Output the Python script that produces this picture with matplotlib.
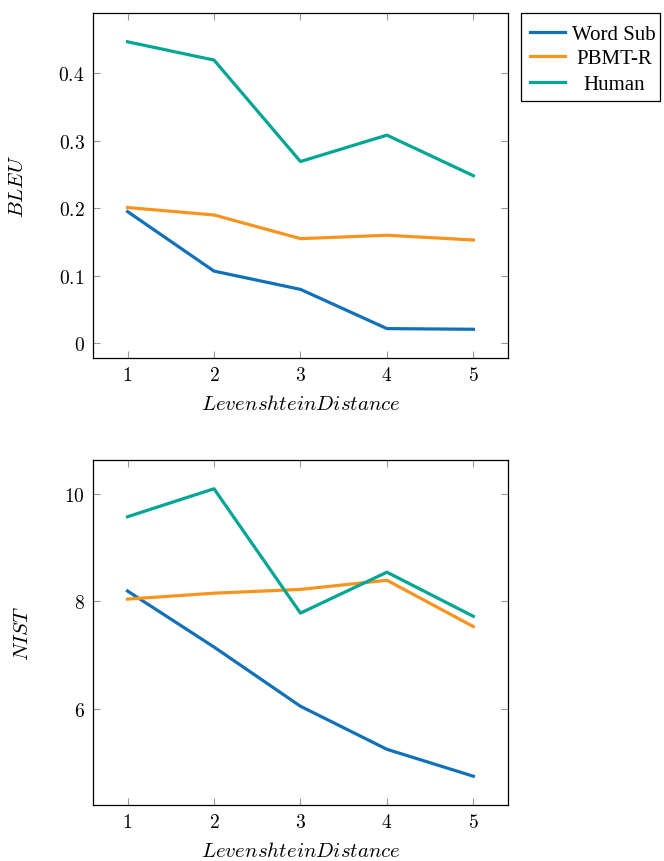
import matplotlib
matplotlib.use("Agg")
import matplotlib.pyplot as plt
from matplotlib.lines import Line2D
from matplotlib.patches import Rectangle

plt.rcParams['mathtext.fontset'] = 'cm'
plt.rcParams['font.family'] = ['Liberation Serif', 'DejaVu Serif']

distance = [1, 2, 3, 4, 5]
series_names = ["Word Sub", "PBMT-R", "Human"]
bleu_word_sub = [0.195, 0.107, 0.080, 0.022, 0.021]
bleu_pbmt_r = [0.201, 0.190, 0.155, 0.160, 0.153]
bleu_human = [0.446, 0.419, 0.269, 0.308, 0.248]
nist_word_sub = [8.19, 7.15, 6.05, 5.25, 4.75]
nist_pbmt_r = [8.04, 8.15, 8.22, 8.39, 7.53]
nist_human = [9.57, 10.09, 7.78, 8.54, 7.72]
bleu_ticks = [0, 0.1, 0.2, 0.3, 0.4]
bleu_tick_labels = ["$0$", "$0.1$", "$0.2$", "$0.3$", "$0.4$"]
nist_ticks = [6, 8, 10]
nist_tick_labels = ["$6$", "$8$", "$10$"]
x_tick_labels = ["$1$", "$2$", "$3$", "$4$", "$5$"]

colors = ["#1170BA", "#F7941D", "#00A693"]

W, H = 664, 862
fig = plt.figure(figsize=(W / 100, H / 100), dpi=100)
ax1 = fig.add_axes([0.140, 0.5835, 0.625, 0.4002])
ax2 = fig.add_axes([0.140, 0.065, 0.625, 0.4002])


def enlarge(vals, frac=0.1):
    lo, hi = min(vals), max(vals)
    d = (hi - lo) * frac
    return lo - d, hi + d


for ax, data, yt, ytl, ylab in [
    (ax1, [bleu_word_sub, bleu_pbmt_r, bleu_human], bleu_ticks, bleu_tick_labels, "$BLEU$"),
    (ax2, [nist_word_sub, nist_pbmt_r, nist_human], nist_ticks, nist_tick_labels, "$NIST$"),
]:
    for vals, name, c in zip(data, series_names, colors):
        ax.plot(distance, vals, color=c, lw=2.3, label=name)
    allv = [v for s in data for v in s]
    ax.set_ylim(*enlarge(allv))
    ax.set_xlim(*enlarge(distance))
    ax.set_xticks(distance)
    ax.set_xticklabels(x_tick_labels, fontsize=14)
    ax.set_yticks(yt)
    ax.set_yticklabels(ytl, fontsize=14)
    ax.tick_params(direction='in', length=5, width=0.8, color='#999999',
                   top=True, right=True, pad=6)
    for sp in ax.spines.values():
        sp.set_linewidth(0.9)
    ax.set_xlabel("$Levenshtein Distance$", fontsize=15, labelpad=8)
    ax.set_ylabel(ylab, fontsize=15, labelpad=22)

# legend drawn in figure pixel coordinates (pgfplots style, centered text)
def fx(px):
    return px / W


def fy(py):
    return 1 - py / H


fig.add_artist(Rectangle((fx(521), fy(102)), fx(660) - fx(521), fy(14) - fy(102),
                         transform=fig.transFigure, facecolor='white',
                         edgecolor='black', lw=0.9))
row_y = [33, 57, 83]
for name, c, ry in zip(series_names, colors, row_y):
    fig.add_artist(Line2D([fx(530), fx(565)], [fy(ry), fy(ry)],
                          transform=fig.transFigure, color=c, lw=2.3))
    fig.text(fx(614), fy(ry), name, ha='center', va='center_baseline', fontsize=15)

fig.savefig("out.png", dpi=100)
